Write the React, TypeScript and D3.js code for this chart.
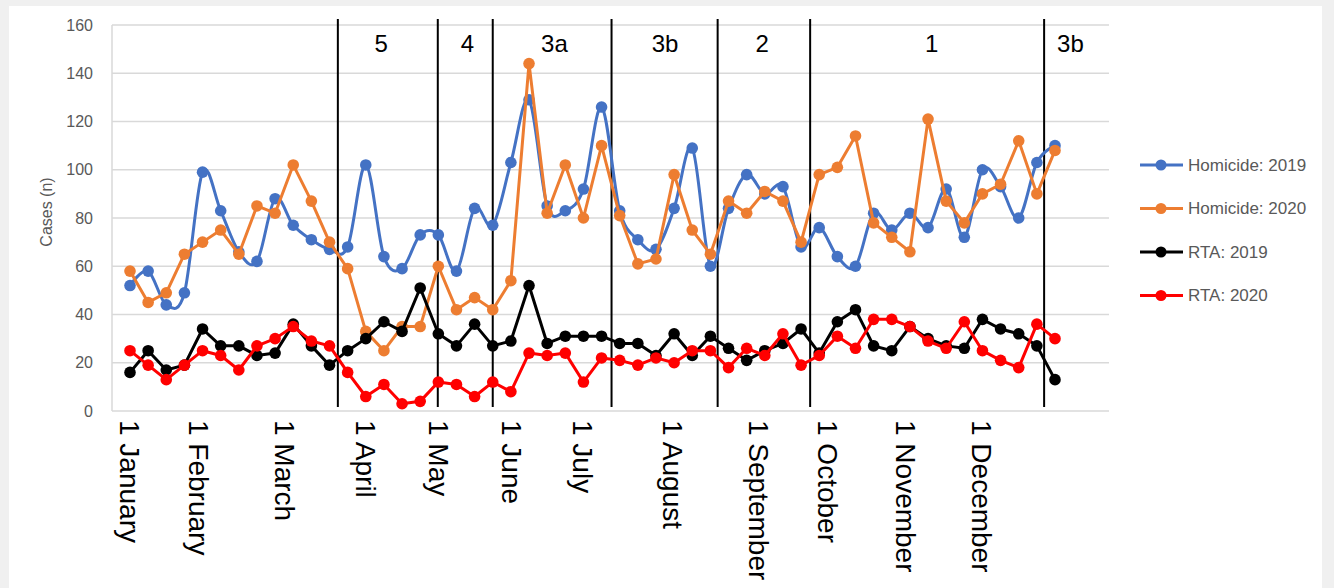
import React from "react";
import * as d3 from "d3";

const homicide2019 = [52,58,44,49,99,83,66,62,88,77,71,67, 68,102,64,59,73,73,58,84,77,103,129,85,83,92,126,83, 71,67,84,109,60,84,98,90,93,68,76,64, 60,82,75,82,76,92,72,100,93,80,103,110];
const homicide2020 = [58,45,49,65,70,75,65,85,82,102,87,70, 59,33,25,35,35,60,42,47,42,54,144,82,102,80,110,81, 61,63,98,75,65,87,82,91,87,70,98,101, 114,78,72,66,121,87,78,90,94,112,90,108];
const rta2019 = [16,25,17,19,34,27,27,23,24,36,27,19, 25,30,37,33,51,32,27,36,27,29,52,28,31,31,31,28, 28,23,32,23,31,26,21,25,28,34,24,37, 42,27,25,35,30,27,26,38,34,32,27,13];
const rta2020 = [25,19,13,19,25,23,17,27,30,35,29,27, 16,6,11,3,4,12,11,6,12,8,24,23,24,12,22,21, 19,22,20,25,25,18,26,23,32,19,23,31, 26,38,38,35,29,26,37,25,21,18,36,30];

const seriesNames = ["Homicide: 2019", "Homicide: 2020", "RTA: 2019", "RTA: 2020"];
const seriesColors = ["#4472c4", "#ed7d31", "#000000", "#ff0000"];
const seriesSmooth = [true, false, false, false];

const yTicks = [0, 20, 40, 60, 80, 100, 120, 140, 160];

// month labels and their position in week units
const monthLabels = ["1 January","1 February","1 March","1 April","1 May","1 June","1 July","1 August","1 September","1 October","1 November","1 December"];
const monthWeekPos = [0, 3.8, 8.55, 13.0, 17.0, 21.05, 24.95, 29.95, 34.65, 38.5, 42.8, 46.95];

// lockdown phase boundaries (week units) and labels
const phaseBoundaries = [11.46, 16.97, 20.0, 26.55, 32.4, 37.5, 50.4];
const phaseLabels = ["5", "4", "3a", "3b", "2", "1", "3b"];
const phaseLabelPos = [13.85, 18.6, 23.4, 29.5, 34.85, 44.2, 51.85];

export default function App() {
  const W = 1334, H = 588;
  const plotLeft = 112, plotRight = 1109, plotTop = 25, plotBottom = 411;
  const x = d3.scaleLinear().domain([0, 51]).range([130, 1055]);
  const y = d3.scaleLinear().domain([0, 160]).range([plotBottom, plotTop]);
  const data = [homicide2019, homicide2020, rta2019, rta2020];

  React.useEffect(() => {
    document.body.style.margin = "0";
    document.body.style.overflow = "hidden";
  }, []);

  const font = "'Liberation Sans', Arial, sans-serif";

  return (
    <svg width={W} height={H} style={{ position: "absolute", left: 0, top: 0, display: "block" }} fontFamily={font}>
      <rect x={0} y={0} width={W} height={H} fill="#f0f0f0" />
      <rect x={9} y={6} width={1313} height={H - 6} fill="#ffffff" />
      {/* grid */}
      {yTicks.map((t) => (
        <line key={t} x1={plotLeft} x2={plotRight} y1={y(t)} y2={y(t)} stroke="#d9d9d9" strokeWidth={1.5} />
      ))}
      <line x1={plotLeft} x2={plotLeft} y1={plotTop} y2={plotBottom} stroke="#d9d9d9" strokeWidth={1.5} />
      {/* y tick labels */}
      {yTicks.map((t) => (
        <text key={"l" + t} x={93} y={y(t)} dy="0.35em" textAnchor="end" fontSize={16} fill="#595959">{t}</text>
      ))}
      <text transform={`translate(52,212) rotate(-90)`} textAnchor="middle" fontSize={16} fill="#595959">Cases (n)</text>
      {/* phase lines */}
      {phaseBoundaries.map((b, i) => (
        <line key={"p" + i} x1={x(b)} x2={x(b)} y1={19} y2={407} stroke="#000" strokeWidth={2} />
      ))}
      {phaseLabels.map((l, i) => (
        <text key={"pl" + i} x={x(phaseLabelPos[i])} y={44} dy="0.35em" textAnchor="middle" fontSize={24} fill="#000">{l}</text>
      ))}
      {/* series */}
      {data.map((vals, si) => {
        const line = d3.line<number>()
          .x((_, i) => x(i))
          .y((v) => y(v))
          .curve(seriesSmooth[si] ? d3.curveCatmullRom.alpha(0) : d3.curveLinear);
        return (
          <g key={"s" + si}>
            <path d={line(vals) || ""} fill="none" stroke={seriesColors[si]} strokeWidth={3} strokeLinejoin="round" />
            {vals.map((v, i) => (
              <circle key={i} cx={x(i)} cy={y(v)} r={5.8} fill={seriesColors[si]} />
            ))}
          </g>
        );
      })}
      {/* month labels */}
      {monthLabels.map((m, i) => (
        <text key={"m" + i} transform={`translate(${x(monthWeekPos[i])},420) rotate(90)`} dy="0.35em" fontSize={28} fill="#000">{m}</text>
      ))}
      {/* legend */}
      {seriesNames.map((n, i) => {
        const ly = 165 + i * 43.5;
        return (
          <g key={"lg" + i}>
            <line x1={1140} x2={1183} y1={ly} y2={ly} stroke={seriesColors[i]} strokeWidth={3} />
            <circle cx={1161} cy={ly} r={5.5} fill={seriesColors[i]} />
            <text x={1188} y={ly} dy="0.35em" fontSize={17} fill="#595959">{n}</text>
          </g>
        );
      })}
    </svg>
  );
}
